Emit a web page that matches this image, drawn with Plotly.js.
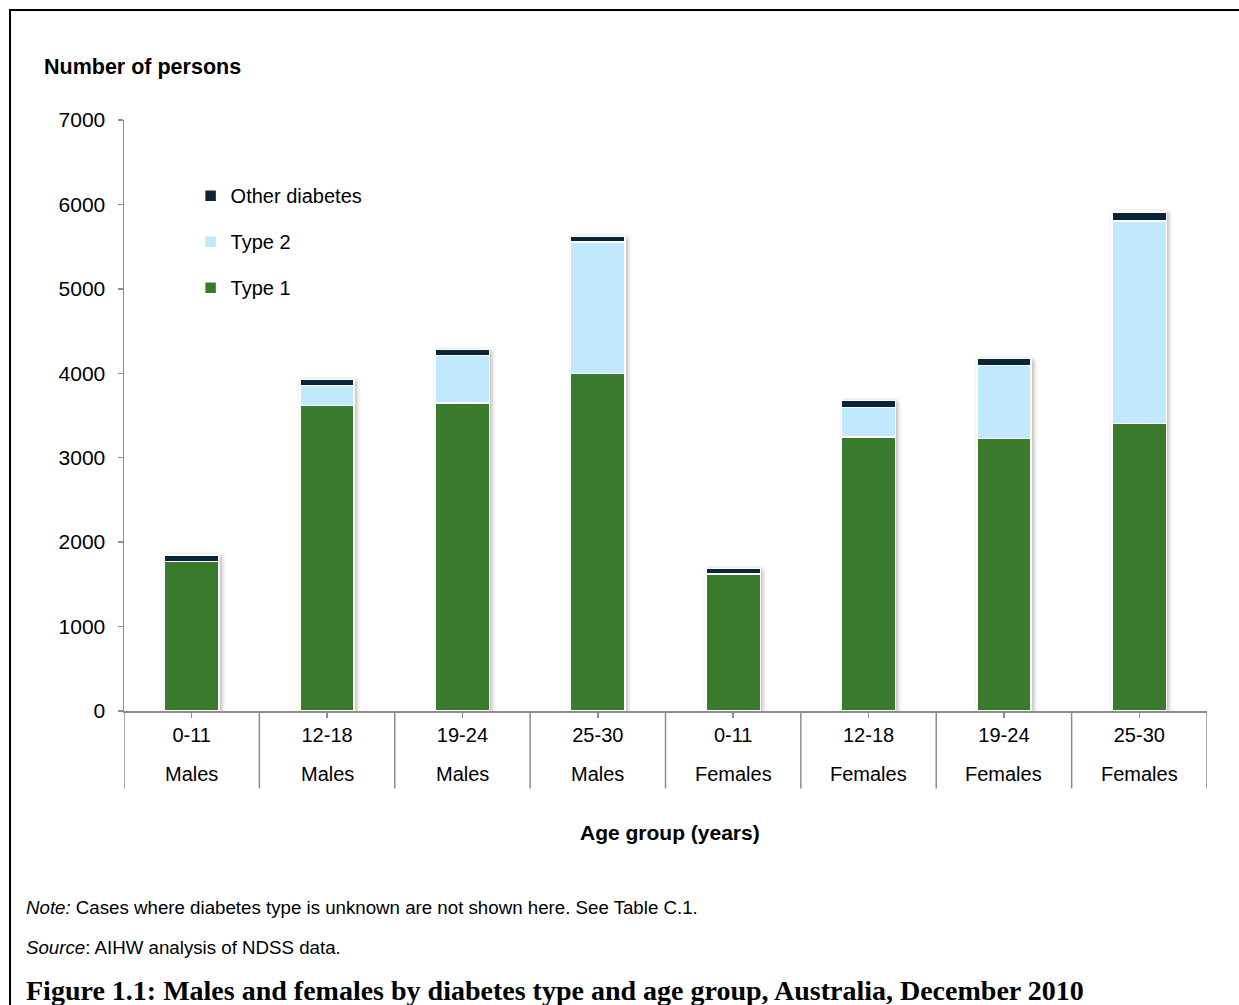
<!DOCTYPE html>
<html>
<head>
<meta charset="utf-8">
<script src="https://cdn.plot.ly/plotly-3.0.1.min.js"></script>
<style>
  html, body { margin: 0; padding: 0; background: #fff; }
  #wrap { position: relative; width: 1239px; height: 1005px; overflow: hidden; }
  #chart { width: 1239px; height: 1005px; }
  #frame {
    position: absolute; left: 9px; top: 9px; right: -10px; bottom: -10px;
    border-left: 2px solid #000; border-top: 2px solid #000;
    pointer-events: none;
  }
  #chart .barlayer { filter: drop-shadow(2px 1px 2px rgba(0,0,0,0.28)); }
</style>
</head>
<body>
<div id="wrap">
  <div id="chart"></div>
  <div id="frame"></div>
</div>
<script>
// Age groups and sex for each column
const ages  = ['0-11', '12-18', '19-24', '25-30', '0-11', '12-18', '19-24', '25-30'];
const sexes = ['Males', 'Males', 'Males', 'Males', 'Females', 'Females', 'Females', 'Females'];

// Number of persons by diabetes type
const type1 = [1770, 3620, 3650, 3995, 1620, 3245, 3225, 3405];
const type2 = [0, 233, 562, 1560, 0, 348, 865, 2400];
const other = [75, 76, 68, 65, 70, 87, 87, 105];

const yTicks = [0, 1000, 2000, 3000, 4000, 5000, 6000, 7000];

const cats = ages.map((a, i) => a + ' ' + sexes[i]);

const FONT = 'Liberation Sans, Arial, sans-serif';
const AXIS_GREY = '#8c8c8c';

const barLine = { color: '#ffffff', width: 1.5 };

const traces = [
  { name: 'Type 1', x: cats, y: type1, type: 'bar',
    marker: { color: '#3a7a2c', line: barLine }, legendgroup: 'g1', legendrank: 3 },
  { name: 'Type 2', x: cats, y: type2, type: 'bar',
    marker: { color: '#c2e8fd', line: barLine }, legendgroup: 'g2', legendrank: 2 },
  { name: 'Other diabetes', x: cats, y: other, type: 'bar',
    marker: { color: '#0b2538', line: barLine }, legendgroup: 'g3', legendrank: 1 }
];

// Vertical dividers between category columns, running below the x axis
const shapes = [];
for (let i = 0; i <= cats.length; i++) {
  shapes.push({
    type: 'line', xref: 'x', yref: 'paper',
    x0: i - 0.5, x1: i - 0.5, y0: 0, y1: -0.131,
    line: { color: AXIS_GREY, width: 1.5 }
  });
}

// Second row of category labels (sex)
const annotations = sexes.map((s, i) => ({
  text: s, x: cats[i], xref: 'x', y: -0.107, yref: 'paper',
  showarrow: false, xanchor: 'center', yanchor: 'middle',
  font: { family: FONT, size: 20, color: '#000' }
}));

annotations.push(
  { text: '<b>Number of persons</b>', xref: 'paper', yref: 'paper',
    x: -0.076, y: 1.089, xanchor: 'left', yanchor: 'middle', showarrow: false,
    font: { family: FONT, size: 21.5, color: '#000' } },
  { text: '<b>Age group (years)</b>', xref: 'paper', yref: 'paper',
    x: 0.504, y: -0.205, xanchor: 'center', yanchor: 'middle', showarrow: false,
    font: { family: FONT, size: 21, color: '#000' } },
  { text: '<i>Note:</i> Cases where diabetes type is unknown are not shown here. See Table C.1.',
    xref: 'paper', yref: 'paper', x: -0.0925, y: -0.333,
    xanchor: 'left', yanchor: 'middle', showarrow: false,
    font: { family: FONT, size: 18.7, color: '#000' } },
  { text: '<i>Source</i>: AIHW analysis of NDSS data.',
    xref: 'paper', yref: 'paper', x: -0.0925, y: -0.401,
    xanchor: 'left', yanchor: 'middle', showarrow: false,
    font: { family: FONT, size: 18.7, color: '#000' } },
  { text: '<b>Figure 1.1: Males and females by diabetes type and age group, Australia, December 2010</b>',
    xref: 'paper', yref: 'paper', x: -0.0925, y: -0.473,
    xanchor: 'left', yanchor: 'middle', showarrow: false,
    font: { family: 'Liberation Serif, Times New Roman, serif', size: 28, color: '#000' } }
);

const layout = {
  width: 1239, height: 1005,
  margin: { l: 124, r: 32, t: 120, b: 294 },
  paper_bgcolor: '#ffffff', plot_bgcolor: '#ffffff',
  barmode: 'stack', bargap: 0.6,
  font: { family: FONT, size: 20, color: '#000' },
  showlegend: true,
  legend: {
    x: 0.0615, y: 0.905, xanchor: 'left', yanchor: 'top',
    traceorder: 'grouped', tracegroupgap: 17,
    bgcolor: 'rgba(0,0,0,0)', font: { family: FONT, size: 20, color: '#000' },
    itemwidth: 30
  },
  xaxis: {
    type: 'category', categoryorder: 'array', categoryarray: cats,
    tickvals: cats, ticktext: ages,
    showline: true, linecolor: AXIS_GREY, linewidth: 1.5,
    ticks: 'outside', ticklen: 5, tickcolor: AXIS_GREY, tickwidth: 1.5,
    showgrid: false, zeroline: false,
    tickfont: { family: FONT, size: 20, color: '#000' },
    range: [-0.5, 7.5], fixedrange: true
  },
  yaxis: {
    range: [0, 7000], tickvals: yTicks, ticktext: yTicks.map(String),
    showline: true, linecolor: AXIS_GREY, linewidth: 1.5,
    ticks: 'outside', ticklen: 5, tickcolor: AXIS_GREY, tickwidth: 1.5,
    ticklabelstandoff: 8,
    showgrid: false, zeroline: false,
    tickfont: { family: FONT, size: 21, color: '#000' },
    fixedrange: true
  },
  shapes: shapes,
  annotations: annotations
};

Plotly.newPlot('chart', traces, layout, { displayModeBar: false, staticPlot: true });
</script>
</body>
</html>
